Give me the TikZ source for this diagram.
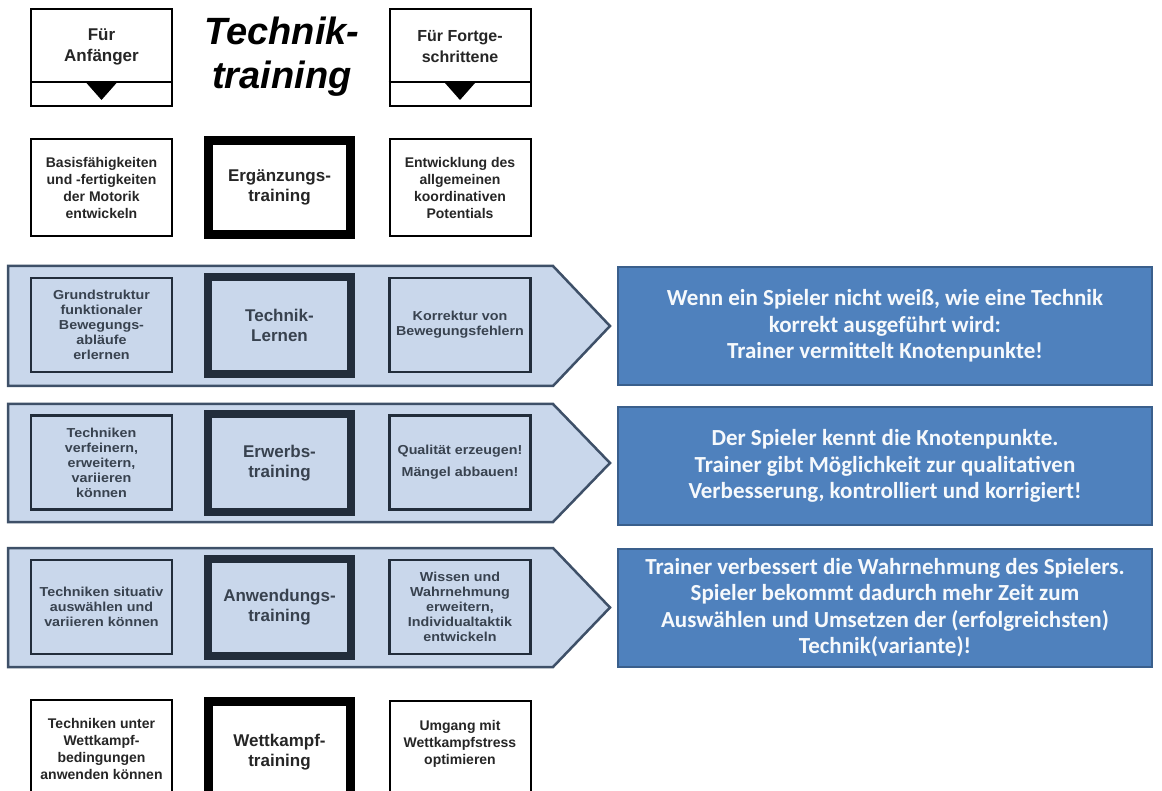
\documentclass[tikz,border=0pt]{standalone}
\usepackage{fontspec}
\setmainfont{Liberation Sans}
\newfontfamily\breit[FakeStretch=1.1]{Liberation Sans}
\newfontfamily\calibri{Carlito}
\definecolor{bandfill}{HTML}{C9D7EB}
\definecolor{bandline}{HTML}{3E5068}
\definecolor{navy}{HTML}{222D3B}
\definecolor{blaufill}{HTML}{4F81BD}
\definecolor{blauline}{HTML}{3A5F8C}
\definecolor{schrift}{HTML}{262626}
\tikzset{%
    kasten/.style={draw=black,line width=2pt,fill=white,inner sep=0pt,minimum width=141pt,align=center,text=schrift,font=\bfseries\fontsize{14}{17}\selectfont},
    dick/.style={draw=black,line width=9pt,fill=white,inner sep=0pt,minimum width=142pt,align=center,text=schrift,font=\bfseries\fontsize{17}{20}\selectfont},
    band/.style={draw=bandline,line width=2.5pt,fill=bandfill,line join=miter},
    bandkasten/.style={draw=navy,line width=2.5pt,fill=bandfill,inner sep=0pt,minimum width=141pt,minimum height=94pt,align=center,text=navy!90,font=\breit\bfseries\fontsize{13}{15}\selectfont},
    banddick/.style={draw=navy,line width=8pt,fill=bandfill,inner sep=0pt,minimum width=143pt,minimum height=97pt,align=center,text=navy!90,font=\bfseries\fontsize{17}{20}\selectfont},
    blau/.style={draw=blauline,line width=2pt,fill=blaufill,inner sep=0pt,minimum width=534pt,minimum height=118pt,align=center,text=white!95!blaufill,font=\calibri\bfseries\fontsize{23}{26.5}\selectfont},
    titel/.style={align=center,inner sep=0pt,font=\bfseries\itshape\fontsize{38}{44}\selectfont},
}
\begin{document}
\begin{tikzpicture}[x=1pt,y=-1pt]
    \useasboundingbox (0,0) rectangle (1162,791);
    \clip (0,0) rectangle (1162,791);
    \fill[white] (0,0) rectangle (1162,791);

    % Kopfzeile
    \node[kasten,minimum height=97pt] (anf) at (101.5,57.5) {};
    \node[kasten,draw=none,fill=none,font=\bfseries\fontsize{17}{21}\selectfont] (anftext) at (101.5,47) {Für\\Anfänger};
    \draw[line width=2pt] (anf.west |- 0,82) -- (anf.east |- 0,82);
    \fill (anf.center |- 0,83) ++(-15,0) -- ++(30,0) -- ++(-15,17) -- cycle;

    \node[titel] (titel) at (282,57) {Technik-\\training};

    \node[kasten,minimum height=97pt] (fort) at (460,57.5) {};
    \node[kasten,draw=none,fill=none,font=\bfseries\fontsize{16}{21}\selectfont] (forttext) at (460,47) {Für Fortge-\\schrittene};
    \draw[line width=2pt] (fort.west |- 0,82) -- (fort.east |- 0,82);
    \fill (fort.center |- 0,83) ++(-15,0) -- ++(30,0) -- ++(-15,17) -- cycle;

    % Ergaenzungstraining
    \node[kasten,minimum height=97pt] (basis) at (101.5,187.5) {Basisfähigkeiten\\und -fertigkeiten\\der Motorik\\entwickeln};
    \node[dick,minimum height=94pt] (ergaenz) at (279.5,187.5) {Ergänzungs-\\training};
    \node[kasten,minimum height=97pt] (koord) at (460,187.5) {Entwicklung des\\allgemeinen\\koordinativen\\Potentials};

    % Baender
    \draw[band] (8,266) -- (553,266) -- (610,326) -- (553,386) -- (8,386) -- cycle;
    \draw[band] (8,404) -- (553,404) -- (610,463) -- (553,522) -- (8,522) -- cycle;
    \draw[band] (8,548) -- (553,548) -- (610,607.5) -- (553,667) -- (8,667) -- cycle;

    % Technik-Lernen
    \node[bandkasten] (grund) at (101.5,325) {Grundstruktur\\funktionaler\\Bewegungs-\\abläufe\\erlernen};
    \node[banddick] (lernen) at (279.5,325.5) {Technik-\\Lernen};
    \node[bandkasten] (korrektur) at (460,325) {Korrektur von\\Bewegungsfehlern};
    \node[blau] (info1) at (885,326) {Wenn ein Spieler nicht weiß, wie eine Technik\\korrekt ausgeführt wird:\\Trainer vermittelt Knotenpunkte!};

    % Erwerbstraining
    \node[bandkasten] (verfein) at (101.5,462.5) {Techniken\\verfeinern,\\erweitern,\\variieren\\können};
    \node[banddick] (erwerb) at (279.5,463) {Erwerbs-\\training};
    \node[bandkasten] (qualitaet) at (460,462.5) {Qualität erzeugen!\\[7pt]Mängel abbauen!};
    \node[blau] (info2) at (885,466) {Der Spieler kennt die Knotenpunkte.\\Trainer gibt Möglichkeit zur qualitativen\\Verbesserung, kontrolliert und korrigiert!};

    % Anwendungstraining
    \node[bandkasten] (situativ) at (101.5,607) {Techniken situativ\\auswählen und\\variieren können};
    \node[banddick] (anwend) at (279.5,607.5) {Anwendungs-\\training};
    \node[bandkasten] (wissen) at (460,607) {Wissen und\\Wahrnehmung\\erweitern,\\Individualtaktik\\entwickeln};
    \node[blau] (info3) at (885,607.5) {Trainer verbessert die Wahrnehmung des Spielers.\\Spieler bekommt dadurch mehr Zeit zum\\Auswählen und Umsetzen der (erfolgreichsten)\\Technik(variante)!};

    % Wettkampftraining
    \node[kasten,minimum height=140pt] (unter) at (101.5,770) {};
    \node[kasten,draw=none,fill=none] (untertext) at (101.5,749) {Techniken unter\\Wettkampf-\\bedingungen\\anwenden können};
    \node[dick,minimum height=140pt] (wettkampf) at (279.5,771.5) {};
    \node[dick,draw=none,fill=none] (wettkampftext) at (279.5,752) {Wettkampf-\\training};
    \node[kasten,minimum height=140pt] (umgang) at (460,771) {};
    \node[kasten,draw=none,fill=none] (umgangtext) at (460,744) {Umgang mit\\Wettkampfstress\\optimieren};
\end{tikzpicture}
\end{document}
